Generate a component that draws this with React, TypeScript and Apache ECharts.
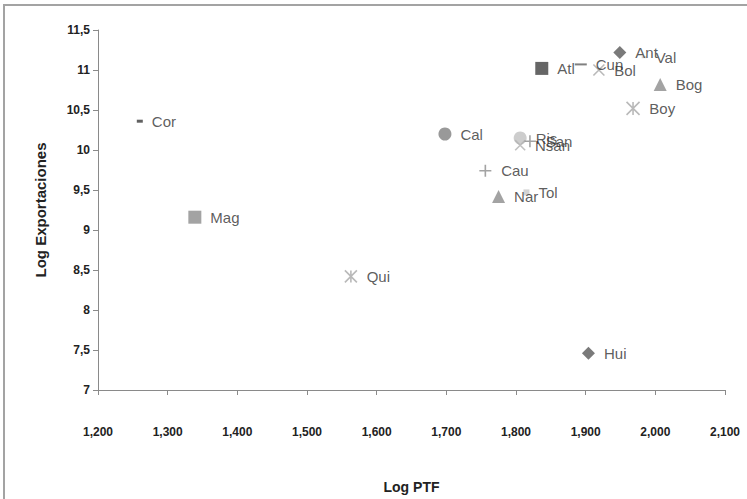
import React, { useEffect, useRef } from "react";
import * as echarts from "echarts";

// Department codes, Log PTF (x) and Log Exportaciones (y)
const deptNames = ["Cor", "Mag", "Qui", "Cal", "Ris", "San", "Nsan", "Cau", "Nar", "Tol", "Atl", "Cun", "Bol", "Ant", "Val", "Bog", "Boy", "Hui"];
const logPtf = [1.26, 1.339, 1.563, 1.698, 1.806, 1.82, 1.806, 1.756, 1.775, 1.815, 1.837, 1.893, 1.919, 1.949, 1.984, 2.007, 1.968, 1.904];
const logExport = [10.36, 9.16, 8.42, 10.2, 10.15, 10.11, 10.06, 9.74, 9.42, 9.47, 11.02, 11.07, 11.0, 11.22, 11.16, 10.82, 10.52, 7.46];

const xTicks = { min: 1.2, max: 2.1, interval: 0.1 };
const yTicks = { min: 7, max: 11.5, interval: 0.5 };

const P_ASTER = "path://M0,0L10,10M10,0L0,10M5,0L5,10";
const P_X = "path://M0,0L10,10M10,0L0,10";
const P_PLUS = "path://M5,0L5,10M0,5L10,5";

type Sty = { symbol: string; size: number | number[]; color: string; stroke?: boolean };
const markerStyles: Record<string, Sty> = {
  Cor: { symbol: "rect", size: [6, 3], color: "#3a3a3a" },
  Mag: { symbol: "rect", size: 13, color: "#8c8c8c" },
  Qui: { symbol: P_ASTER, size: 12, color: "#a8a8a8", stroke: true },
  Cal: { symbol: "circle", size: 13, color: "#808080" },
  Ris: { symbol: "circle", size: 13, color: "#c0c0c0" },
  San: { symbol: P_PLUS, size: 12, color: "#8c8c8c", stroke: true },
  Nsan: { symbol: P_X, size: 10, color: "#b0b0b0", stroke: true },
  Cau: { symbol: P_PLUS, size: 12, color: "#8c8c8c", stroke: true },
  Nar: { symbol: "triangle", size: 13, color: "#8c8c8c" },
  Tol: { symbol: "rect", size: 6, color: "#c8c8c8" },
  Atl: { symbol: "rect", size: 13, color: "#404040" },
  Cun: { symbol: "rect", size: [12, 2], color: "#606060" },
  Bol: { symbol: P_X, size: 11, color: "#a8a8a8", stroke: true },
  Ant: { symbol: "diamond", size: 13, color: "#595959" },
  Val: { symbol: "rect", size: [5, 2], color: "#c8c8c8" },
  Bog: { symbol: "triangle", size: 13, color: "#8c8c8c" },
  Boy: { symbol: P_ASTER, size: 13, color: "#a8a8a8", stroke: true },
  Hui: { symbol: "diamond", size: 13, color: "#595959" },
};

const labelFont = "'Liberation Sans', Arial, sans-serif";

export default function App() {
  const ref = useRef<HTMLDivElement>(null);
  useEffect(() => {
    if (!ref.current) return;
    const chart = echarts.init(ref.current, undefined, { renderer: "svg" });
    const data = deptNames.map((n, i) => {
      const s = markerStyles[n];
      return {
        name: n,
        value: [logPtf[i], logExport[i]],
        symbol: s.symbol,
        symbolSize: s.size,
        itemStyle: s.stroke
          ? { color: s.color, borderColor: s.color, borderWidth: 1.6 }
          : { color: s.color },
      };
    });
    chart.setOption({
      animation: false,
      backgroundColor: "#ffffff",
      graphic: [
        {
          type: "rect",
          shape: { x: 4, y: 5, width: 800, height: 600 },
          style: { fill: "none", stroke: "#a3a3a3", lineWidth: 2 },
          silent: true,
        },
      ],
      grid: { left: 98, right: 22, top: 30, bottom: 101 },
      xAxis: {
        type: "value",
        min: xTicks.min,
        max: xTicks.max,
        interval: xTicks.interval,
        name: "Log PTF",
        nameLocation: "middle",
        nameGap: 90,
        nameTextStyle: { fontFamily: labelFont, fontWeight: "bold", fontSize: 14, color: "#222" },
        splitLine: { show: false },
        axisLine: { lineStyle: { color: "#8a8a8a", width: 1 } },
        axisTick: { show: true, length: 5, lineStyle: { color: "#8a8a8a" } },
        axisLabel: {
          margin: 36,
          fontFamily: labelFont,
          fontWeight: "bold",
          fontSize: 12,
          color: "#222",
          formatter: (v: number) => v.toFixed(3).replace(".", ","),
        },
      },
      yAxis: {
        type: "value",
        min: yTicks.min,
        max: yTicks.max,
        interval: yTicks.interval,
        name: "Log Exportaciones",
        nameLocation: "middle",
        nameGap: 50,
        nameTextStyle: { fontFamily: labelFont, fontWeight: "bold", fontSize: 15, color: "#222" },
        splitLine: { show: false },
        axisLine: { show: true, lineStyle: { color: "#8a8a8a", width: 1 } },
        axisTick: { show: true, length: 5, lineStyle: { color: "#8a8a8a" } },
        axisLabel: {
          margin: 8,
          fontFamily: labelFont,
          fontWeight: "bold",
          fontSize: 12,
          color: "#222",
          formatter: (v: number) => String(v).replace(".", ","),
        },
      },
      series: [
        {
          type: "scatter",
          data,
          label: {
            show: true,
            position: "right",
            distance: 9,
            formatter: "{b}",
            fontFamily: labelFont,
            fontSize: 15,
            color: "#333",
          },
          labelLayout: { hideOverlap: false },
        },
      ],
    });
    return () => chart.dispose();
  }, []);
  return (
    <div
      ref={ref}
      style={{ position: "fixed", left: 0, top: 0, width: 747, height: 499, background: "#fff" }}
    />
  );
}
